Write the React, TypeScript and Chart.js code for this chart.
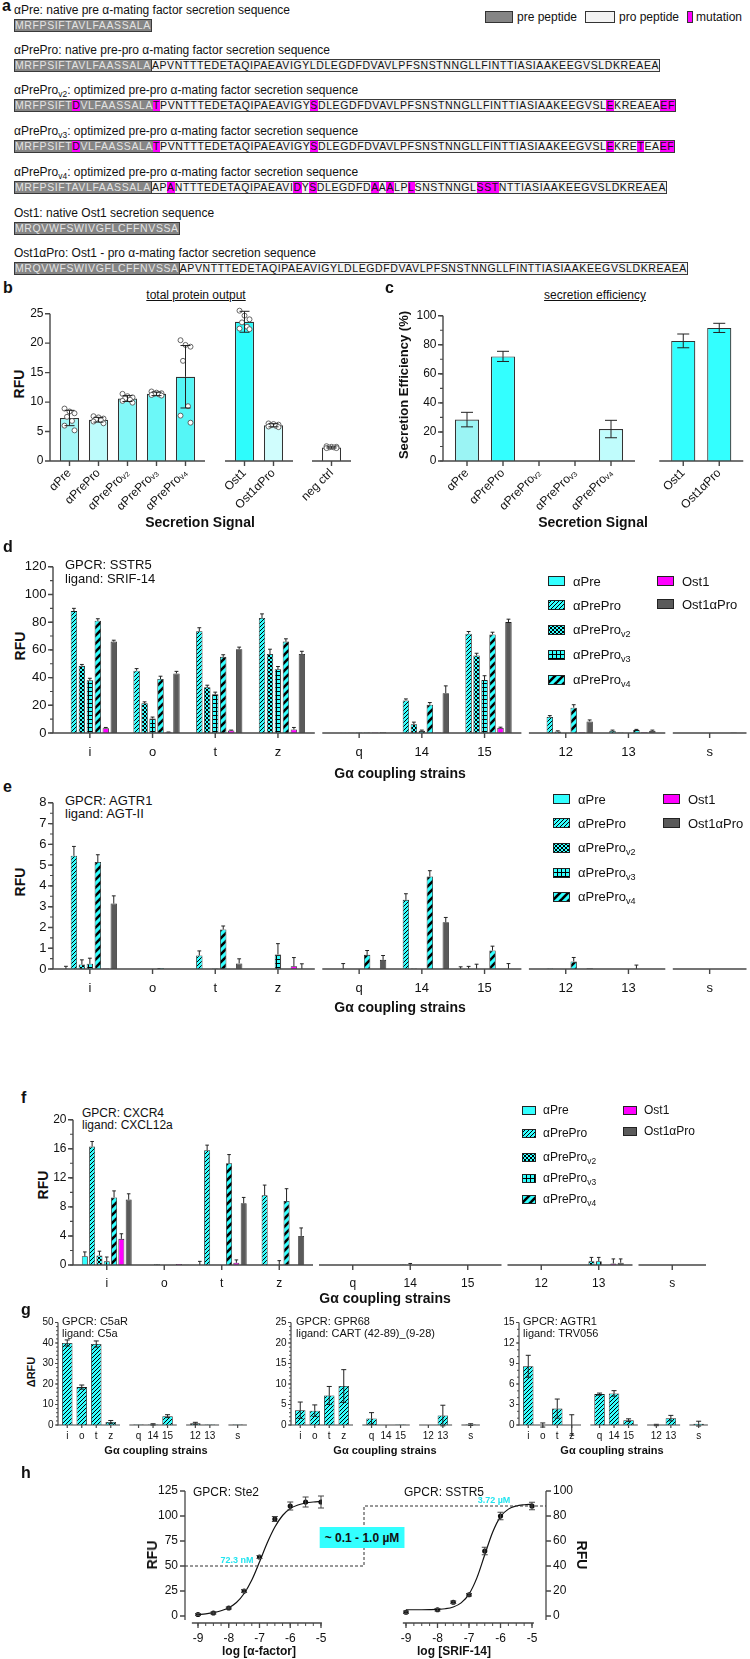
import React, { useEffect, useRef } from 'react';
import { Chart, registerables } from 'chart.js';

Chart.register(...registerables);

const FONT = "'Liberation Sans', Arial, Helvetica, sans-serif";
Chart.defaults.font.family = FONT;
Chart.defaults.color = '#111';

const CYAN = '#33FFFF';
const MAGENTA = '#FF00FF';
const DGRAY = '#5a5a5a';
const AXIS = '#474747';

// ================= DATA =================
// panel a – sequences
const preAlpha = 'MRFPSIFTAVLFAASSALA';
const proAlpha = 'APVNTTTEDETAQIPAEAVIGYLDLEGDFDVAVLPFSNSTNNGLLFINTTIASIAAKEEGVSLDKREAEA';
const preOst1 = 'MRQVWFSWIVGFLCFFNVSSA';
const seqAPre = [['pre', preAlpha]];
const seqAPrePro = [['pre', preAlpha], ['pro', proAlpha]];
const seqV2 = [['pre', 'MRFPSIFT'], ['mut', 'D'], ['pre', 'VLFAASSALA'], ['mut', 'T'], ['pro', 'PVNTTTEDETAQIPAEAVIGY'], ['mut', 'S'], ['pro', 'DLEGDFDVAVLPFSNSTNNGLLFINTTIASIAAKEEGVSL'], ['mut', 'E'], ['pro', 'KREAEA'], ['mut', 'EF']];
const seqV3 = [['pre', 'MRFPSIFT'], ['mut', 'D'], ['pre', 'VLFAASSALA'], ['mut', 'T'], ['pro', 'PVNTTTEDETAQIPAEAVIGY'], ['mut', 'S'], ['pro', 'DLEGDFDVAVLPFSNSTNNGLLFINTTIASIAAKEEGVSL'], ['mut', 'E'], ['pro', 'KRE'], ['mut', 'T'], ['pro', 'EA'], ['mut', 'EF']];
const seqV4 = [['pre', preAlpha], ['pro', 'AP'], ['mut', 'A'], ['pro', 'NTTTEDETAQIPAEAVI'], ['mut', 'D'], ['pro', 'Y'], ['mut', 'S'], ['pro', 'DLEGDFD'], ['mut', 'A'], ['pro', 'A'], ['mut', 'A'], ['pro', 'LP'], ['mut', 'L'], ['pro', 'SNSTNNGL'], ['mut', 'SST'], ['pro', 'NTTIASIAAKEEGVSLDKREAEA']];
const seqOst1 = [['pre', preOst1]];
const seqOst1Pro = [['pre', preOst1], ['pro', proAlpha]];

// panel b – total protein output
const bLabels = ['αPre', 'αPrePro', 'αPreProᵥ₂', 'αPreProᵥ₃', 'αPreProᵥ₄', 'Ost1', 'Ost1αPro', 'neg ctrl'];
const bMean = [7.3, 7.0, 10.6, 11.4, 14.3, 22.6, 5.8, 2.2];
const bSD = [1.3, 0.4, 0.5, 0.3, 5.3, 1.7, 0.25, 0.1];
const bReps = [
  [8.9, 8.4, 8.1, 7.5, 6.8, 6.0, 5.2],
  [7.6, 7.4, 7.2, 7.1, 6.9, 6.7, 6.4],
  [11.4, 11.0, 10.8, 10.6, 10.4, 10.2, 9.9],
  [11.8, 11.6, 11.5, 11.4, 11.3, 11.2, 11.1],
  [20.5, 19.7, 19.4, 17.0, 9.3, 7.7, 6.5],
  [24.4, 23.6, 23.0, 22.5, 21.8, 21.5, 21.4],
  [6.1, 6.0, 5.9, 5.8, 5.7, 5.6, 5.5],
  [2.4, 2.3, 2.3, 2.2, 2.2, 2.1, 2.1],
];
const bColors = ['#A3F7F7', '#BCFBFB', '#82F8F8', '#6CF8F8', '#55F6F6', '#2EFCFC', '#D0FDFD', '#FFFFFF'];
const bSegs = [5, 2, 1];

// panel c – secretion efficiency
const cLabels = ['αPre', 'αPrePro', 'αPreProᵥ₂', 'αPreProᵥ₃', 'αPreProᵥ₄', 'Ost1', 'Ost1αPro'];
const cMean = [28.5, 72, null, null, 22, 78.5, 87];
const cErr = [5, 3.5, null, null, 6, 4.5, 3];
const cColors = ['#9BF4F4', '#33FFFF', '#FFFFFF', '#FFFFFF', '#C0FCFC', '#33FFFF', '#33FFFF'];
const cSegs = [5, 2];

// panels d, e, f, g – Gα coupling strains
const strains = ['i', 'o', 't', 'z', 'q', '14', '15', '12', '13', 's'];
const strainSegs = [4, 3, 2, 1];
const seriesNames = ['αPre', 'αPrePro', 'αPrePro_v2', 'αPrePro_v3', 'αPrePro_v4', 'Ost1', 'Ost1αPro'];

// d: SSTR5 / SRIF-14  (rows = series, cols = strains)
const sstr5Values = [
  [0, 0, 0, 0, 0, 0, 0, 0, 0, 0],
  [88, 45, 73.5, 83, 0.2, 22.5, 68.5, 11, 1.5, 0],
  [48.5, 21.5, 33, 57, 0.1, 6, 53.5, 1, 0.3, 0],
  [38, 10.5, 28, 46, 0.3, 1.5, 36.5, 0.2, 0.2, 0],
  [81, 39, 55, 66, 0.4, 19.5, 68, 17.5, 2, 0],
  [3.5, 0.5, 1.8, 2.5, 0.3, 0.3, 3.5, 0.5, 0.5, 0],
  [66, 43, 60.5, 57, 0.6, 27.5, 76.5, 8, 1.5, 0.4],
];
const sstr5Errors = [
  [0, 0, 0, 0, 0, 0, 0, 0, 0, 0],
  [2, 1.5, 2.5, 3, 0, 1, 1.5, 1, 0.5, 0],
  [1, 1, 1.5, 3.5, 0, 1.5, 1.5, 0.5, 0, 0],
  [1.5, 1, 1.5, 2, 0, 0.5, 3, 0, 0, 0],
  [1.5, 2, 1.5, 2, 0, 1.5, 1.5, 2, 0.5, 0],
  [0.5, 0.2, 0.3, 1.5, 0, 0, 0.5, 0, 0, 0],
  [1, 1.5, 1.5, 2, 0, 5, 2, 1, 0.5, 0],
];

// e: AGTR1 / AGT-II
const agtr1Values = [
  [0, 0, 0, 0, 0, 0, 0, 0, 0, 0],
  [5.45, 0, 0.65, 0, 0, 3.18, 0, 0.02, 0, 0],
  [0.22, 0, 0, 0, 0, 0.02, 0, 0, 0, 0],
  [0.25, 0, 0.03, 0.7, 0, 0, 0, 0, 0, 0],
  [5.15, 0.05, 1.9, 0, 0.65, 4.25, 0.85, 0.35, 0, 0],
  [0.03, 0, 0, 0.13, 0, 0, 0, 0, 0, 0],
  [3.15, 0, 0.27, 0, 0.42, 2.15, 0, 0.03, 0, 0],
];
const agtr1Errors = [
  [0.13, 0, 0, 0, 0, 0, 0.1, 0, 0, 0],
  [0.45, 0, 0.22, 0, 0.25, 0.28, 0.12, 0, 0, 0],
  [0.22, 0, 0, 0, 0, 0, 0.22, 0, 0, 0],
  [0.27, 0, 0, 0.52, 0, 0, 0, 0, 0, 0],
  [0.35, 0, 0.17, 0, 0.2, 0.27, 0.2, 0.18, 0.18, 0],
  [0, 0, 0, 0.42, 0, 0, 0, 0, 0, 0],
  [0.37, 0, 0.22, 0.25, 0.2, 0.22, 0.25, 0, 0, 0],
];

// f: CXCR4 / CXCL12a
const cxcr4Values = [
  [1.2, 0, 0, 0, 0, 0, 0, 0, 0, 0],
  [16.3, 0, 15.8, 9.6, 0, 0, 0, 0, 0, 0],
  [1.3, 0.1, 0, 0, 0, 0.05, 0, 0, 0.5, 0],
  [0.5, 0, 0, 0, 0, 0, 0, 0, 0.5, 0],
  [9.3, 0, 14.0, 8.8, 0, 0, 0, 0, 0, 0],
  [3.6, 0.15, 0.3, 0, 0, 0, 0, 0, 0.2, 0],
  [9.0, 0.05, 8.5, 4.0, 0, 0, 0, 0, 0.3, 0],
];
const cxcr4Errors = [
  [0.6, 0, 0.5, 0, 0, 0, 0, 0, 0, 0],
  [0.7, 0, 0.7, 1.4, 0, 0, 0, 0, 0, 0],
  [0.6, 0, 0, 0, 0, 0, 0, 0, 0.5, 0],
  [0.6, 0, 0, 0.6, 0, 0.2, 0, 0, 0.5, 0],
  [0.9, 0, 1.2, 1.7, 0, 0, 0, 0, 0, 0],
  [0.7, 0, 0.4, 0, 0, 0, 0, 0, 0.6, 0],
  [0.8, 0, 0.8, 1.1, 0, 0, 0, 0, 0.5, 0],
];

// g: αPrePro only, three receptors
const c5arValues = [40, 18.5, 39.5, 1.5, 0.2, 0.3, 4.3, 0.8, 0.2, 0.2];
const c5arErrors = [1.5, 1, 1.5, 0.7, 0, 0.3, 0.7, 0.5, 0, 0];
const gpr68Values = [3.6, 3.5, 7.2, 9.5, 1.6, 0, 0.1, 0, 2.3, 0.1];
const gpr68Errors = [2, 1.4, 2.2, 4, 1.4, 0, 0, 0, 2.5, 0.2];
const trv056Values = [8.6, 0, 2.4, 0, 4.5, 4.6, 0.7, 0, 1.0, 0.2];
const trv056Errors = [1.6, 0.3, 1.4, 1.5, 0.15, 0.4, 0.2, 0.1, 0.4, 0.35];

// h: dose–response
const hXTicks = [-9, -8, -7, -6, -5];
const hAlphaTicks = [0, 25, 50, 75, 100, 125];
const hSrifTicks = [0, 20, 40, 60, 80, 100];
const hDoseAlpha = [-9, -8.5, -8, -7.5, -7, -6.5, -6, -5.5, -5];
const hRfuAlpha = [1.5, 3, 8, 25, 59, 97, 110, 114, 114];
const hErrAlpha = [1, 1, 1, 1.5, 1.5, 2.5, 4, 5, 6];
const hDoseSrif = [-9, -8, -7.5, -7, -6.5, -6, -5];
const hRfuSrif = [3, 5, 11, 17, 52, 80, 88];
const hErrSrif = [1, 1, 1, 1, 3, 3, 3];
const hFitDose = [-9, -8.75, -8.5, -8.25, -8, -7.75, -7.5, -7.25, -7, -6.75, -6.5, -6.25, -6, -5.75, -5.5, -5.25, -5];
const hFitAlpha = [1.5, 2.2, 3.3, 5.2, 8.3, 13.5, 22.5, 36, 54, 73, 89, 100.5, 107.5, 111, 113, 114, 114.5];
const hFitSrif = [5, 5, 5, 5.1, 5.3, 5.8, 7.2, 10.5, 17.5, 30.5, 49, 67, 79.5, 85.5, 88, 89, 89.5];
const hHalfAlpha = 50;
const hTopSrif = 88;

// ================= STYLE HELPERS =================
const seriesFills = ['solid', 'hatch', 'check', 'grid', 'stripe', 'magenta', 'gray'];

function makeTile(kind: string) {
  const s = kind === 'stripe' ? 8 : 4;
  const c = document.createElement('canvas');
  c.width = s; c.height = s;
  const g = c.getContext('2d') as CanvasRenderingContext2D;
  g.fillStyle = CYAN; g.fillRect(0, 0, s, s);
  g.fillStyle = '#000'; g.strokeStyle = '#000';
  if (kind === 'hatch' || kind === 'stripe') {
    g.lineWidth = kind === 'hatch' ? 1 : 2.6;
    for (const off of [-s, 0, s]) { g.beginPath(); g.moveTo(off - 1, s + 1); g.lineTo(off + s + 1, -1); g.stroke(); }
  } else if (kind === 'check') {
    g.fillRect(0, 0, 2, 2); g.fillRect(2, 2, 2, 2);
  } else if (kind === 'grid') {
    g.fillRect(0, 0, s, 1); g.fillRect(0, 0, 1, s);
  }
  return c;
}
const patCache = new WeakMap<any, any>();
function fillFor(ctx: CanvasRenderingContext2D, kind: string): any {
  if (kind === 'solid') return CYAN;
  if (kind === 'magenta') return MAGENTA;
  if (kind === 'gray') return DGRAY;
  let m = patCache.get(ctx);
  if (!m) { m = {}; patCache.set(ctx, m); }
  if (!m[kind]) m[kind] = ctx.createPattern(makeTile(kind), 'repeat');
  return m[kind];
}

// ================= PLUGINS =================
const prismPlugin = {
  id: 'prism',
  afterDraw(chart: any, _a: any, o: any) {
    const { ctx, chartArea: ca } = chart;
    const xs = chart.scales.x, ys = chart.scales.y;
    const ext = o.ext || 0, tl = o.tickLen ?? 5;
    ctx.save();
    ctx.strokeStyle = AXIS; ctx.lineWidth = o.lineWidth ?? 1.4;
    ctx.beginPath();
    ctx.moveTo(ca.left - ext, ca.bottom); ctx.lineTo(ca.right + ext, ca.bottom);
    for (let i = 0; i < xs.ticks.length; i++) {
      const px = xs.getPixelForTick(i);
      ctx.moveTo(px, ca.bottom); ctx.lineTo(px, ca.bottom + tl);
    }
    if (o.drawY) {
      const x0 = ca.left - ext;
      ctx.moveTo(x0, ca.top); ctx.lineTo(x0, ca.bottom + 0.7);
      for (const t of ys.ticks) { const py = ys.getPixelForValue(t.value); ctx.moveTo(x0 - tl, py); ctx.lineTo(x0, py); }
    }
    ctx.stroke();
    if (o.drawY && o.yMinor) {
      const x0 = ca.left - ext, ml = o.minorLen ?? 3;
      ctx.beginPath(); ctx.lineWidth = (o.lineWidth ?? 1.4) * 0.8;
      for (let v = ys.min; v <= ys.max + 1e-9; v += o.yMinor) { const py = ys.getPixelForValue(v); ctx.moveTo(x0 - ml, py); ctx.lineTo(x0, py); }
      ctx.stroke();
    }
    ctx.restore();
  },
};

const dotsPlugin = {
  id: 'dots',
  afterDatasetsDraw(chart: any) {
    const ctx = chart.ctx, ys = chart.scales.y;
    const jit = [-5, 0, 5, -2.5, 2.5, -5, 5];
    chart.data.datasets.forEach((ds: any, di: number) => {
      if (!ds.replicates) return;
      const meta = chart.getDatasetMeta(di);
      meta.data.forEach((el: any, i: number) => {
        const reps = ds.replicates[i]; if (!reps) return;
        reps.forEach((v: number, j: number) => {
          ctx.beginPath(); ctx.arc(el.x + jit[j % jit.length], ys.getPixelForValue(v), 2.5, 0, Math.PI * 2);
          ctx.fillStyle = '#fff'; ctx.fill(); ctx.lineWidth = 0.9; ctx.strokeStyle = '#555'; ctx.stroke();
        });
      });
    });
  },
};

const errorPlugin = {
  id: 'errbars',
  afterDatasetsDraw(chart: any) {
    const ctx = chart.ctx, ys = chart.scales.y;
    chart.data.datasets.forEach((ds: any, di: number) => {
      if (!ds.errors) return;
      const meta = chart.getDatasetMeta(di);
      ctx.save(); ctx.strokeStyle = ds.errColor || '#222'; ctx.lineWidth = ds.errWidth || 1;
      meta.data.forEach((el: any, i: number) => {
        const d = ds.data[i]; const v = d !== null && typeof d === 'object' ? d.y : d; const e = ds.errors[i];
        if (v == null || e == null || e === 0) return;
        const x = el.x; const cw = ds.capWidth ?? Math.max(3, (el.width || 6) * 0.6);
        const base = ys.getPixelForValue(v), up = ys.getPixelForValue(v + e);
        ctx.beginPath(); ctx.moveTo(x, base); ctx.lineTo(x, up); ctx.moveTo(x - cw / 2, up); ctx.lineTo(x + cw / 2, up);
        if (ds.errBoth) { const dn = ys.getPixelForValue(v - e); ctx.moveTo(x, base); ctx.lineTo(x, dn); ctx.moveTo(x - cw / 2, dn); ctx.lineTo(x + cw / 2, dn); }
        ctx.stroke();
      });
      ctx.restore();
    });
  },
};

const hAxesPlugin = {
  id: 'haxes',
  afterDraw(chart: any, _a: any, o: any) {
    const { ctx, chartArea: ca } = chart; const xs = chart.scales.x, ys = chart.scales.y;
    ctx.save(); ctx.strokeStyle = AXIS; ctx.lineWidth = 1.3; ctx.beginPath();
    const yx = o.side === 'right' ? ca.right : ca.left; const dir = o.side === 'right' ? 1 : -1;
    ctx.moveTo(yx, ys.getPixelForValue(o.yTop)); ctx.lineTo(yx, ys.getPixelForValue(o.yBottom));
    for (const t of ys.ticks) { const py = ys.getPixelForValue(t.value); ctx.moveTo(yx, py); ctx.lineTo(yx + dir * 5, py); }
    ctx.moveTo(xs.getPixelForValue(o.xFrom), ca.bottom); ctx.lineTo(xs.getPixelForValue(o.xTo), ca.bottom);
    for (const t of xs.ticks) { const px = xs.getPixelForValue(t.value); ctx.moveTo(px, ca.bottom); ctx.lineTo(px, ca.bottom + 5); }
    ctx.stroke();
    ctx.beginPath(); ctx.lineWidth = 1;
    for (let v = o.xMinorFrom; v <= o.xTo + 1e-9; v += o.xMinor) { const px = xs.getPixelForValue(v); ctx.moveTo(px, ca.bottom); ctx.lineTo(px, ca.bottom + 3); }
    ctx.stroke(); ctx.restore();
  },
};

// ================= COMPONENTS =================
function ChartBox({ left, top, width, height, make }: any) {
  const ref = useRef<HTMLCanvasElement>(null);
  useEffect(() => {
    const c = make(ref.current);
    return () => c.destroy();
  }, []);
  return <canvas ref={ref} width={width} height={height} style={{ position: 'absolute', left, top, width, height }} />;
}

function makeSegChart(cv: HTMLCanvasElement, o: any) {
  const tl = o.tickLen ?? 5;
  return new Chart(cv, {
    type: 'bar',
    data: { labels: o.labels, datasets: o.datasets },
    options: {
      responsive: false, animation: false, events: [],
      layout: { padding: { left: o.padLeft, right: o.padRight, top: o.padTop, bottom: 0 } },
      plugins: {
        legend: { display: false }, tooltip: { enabled: false },
        prism: { ext: o.ext, drawY: o.showY, yMinor: o.yMinor, tickLen: tl, minorLen: o.minorLen ?? 3, lineWidth: o.axisWidth ?? 1.4 },
      },
      scales: {
        x: {
          type: 'category', offset: true, grid: { display: false, drawTicks: false }, border: { display: false },
          ticks: { autoSkip: false, maxRotation: o.rotate || 0, minRotation: o.rotate || 0, padding: o.tickPad, font: { size: o.tickFont }, color: '#111' },
          afterFit: (s: any) => { s.height = o.xHeight; },
        },
        y: {
          display: o.showY, min: o.yMin, max: o.yMax, grid: { display: false, drawTicks: false }, border: { display: false },
          ticks: { stepSize: o.yStep, padding: o.ext + tl + 1.5, font: { size: o.yTickFont }, color: '#111' },
          afterFit: (s: any) => { s.width = o.yWidth; },
        },
      },
    } as any,
    plugins: [prismPlugin, dotsPlugin, errorPlugin] as any,
  });
}

function SegChart(p: any) {
  const gaps = Array.isArray(p.gap) ? p.gap : p.segs.map(() => p.gap);
  let cum = 0;
  let x = p.axisX + p.ext;
  const out: any[] = [];
  p.segs.forEach((n: number, k: number) => {
    if (k > 0) x += gaps[k - 1];
    const start = x;
    const first = k === 0;
    const canvasLeft = first ? Math.max(0, Math.floor(p.axisX - (p.yRoom ?? 55))) : Math.floor(start - (p.labelRoom ?? 12));
    const padLeft = start - canvasLeft;
    const plotW = n * p.catW;
    const width = Math.ceil(padLeft + plotW + p.ext + 8);
    const padRight = width - padLeft - plotW;
    const padTop = p.padTop ?? 12;
    const height = Math.round(padTop + (p.bottom - p.top) + p.xHeight);
    const a = cum, b = cum + n;
    const opts = {
      ...p, labels: p.labels.slice(a, b), datasets: p.build(a, b), showY: first,
      padLeft: first ? 0 : padLeft, yWidth: first ? padLeft : 0, padRight, padTop,
    };
    out.push(<ChartBox key={k} left={canvasLeft} top={p.top - padTop} width={width} height={height} make={(cv: any) => makeSegChart(cv, opts)} />);
    x += plotW; cum += n;
  });
  return <>{out}</>;
}

function T({ x, y, s = 12, b = false, a = 'l', r = 0, c = '#111', u = false, f = FONT, children }: any) {
  const tx = a === 'c' ? '-50%' : a === 'r' ? '-100%' : '0';
  return (
    <div style={{
      position: 'absolute', left: x, top: y, transform: `translate(${tx}, -50%)${r ? ` rotate(${r}deg)` : ''}`,
      fontSize: s, fontWeight: b ? 700 : 400, color: c, whiteSpace: 'nowrap', lineHeight: 1, fontFamily: f,
      textDecoration: u ? 'underline' : 'none',
    }}>{children}</div>
  );
}

function Sub({ children }: any) {
  return <span style={{ fontSize: '0.7em', position: 'relative', top: '0.35em' }}>{children}</span>;
}

function seriesLabel(i: number) {
  const n = seriesNames[i];
  const p = n.split('_');
  return p.length > 1 ? <>{p[0]}<Sub>{p[1]}</Sub></> : n;
}

function Swatch({ kind, left, top, w, h }: any) {
  const ref = useRef<HTMLCanvasElement>(null);
  useEffect(() => {
    const c = ref.current as HTMLCanvasElement; const g = c.getContext('2d') as CanvasRenderingContext2D;
    g.fillStyle = fillFor(g, kind); g.fillRect(0, 0, w, h);
    g.strokeStyle = '#222'; g.lineWidth = 1; g.strokeRect(0.5, 0.5, w - 1, h - 1);
  }, []);
  return <canvas ref={ref} width={w} height={h} style={{ position: 'absolute', left, top }} />;
}

function Legend({ x1, x2, rows1, rows2, sw, sh, gap, size }: any) {
  const items: any[] = [];
  for (let i = 0; i < 5; i++) items.push({ x: x1, y: rows1[i], s: i });
  for (let i = 0; i < 2; i++) items.push({ x: x2, y: rows2[i], s: 5 + i });
  return <>{items.map((it) => (
    <React.Fragment key={it.s}>
      <Swatch kind={seriesFills[it.s]} left={it.x} top={Math.round(it.y - sh / 2)} w={sw} h={sh} />
      <T x={it.x + sw + gap} y={it.y} s={size}>{seriesLabel(it.s)}</T>
    </React.Fragment>
  ))}</>;
}

function SeqBox({ top, parts }: any) {
  return (
    <div style={{ position: 'absolute', left: 14, top, display: 'flex', border: '1px solid #3a3a3a', fontSize: 10.5, lineHeight: '11px', height: 11, letterSpacing: '0.6px', fontFamily: FONT }}>
      {parts.map(([k, t]: any, i: number) => (
        <span key={i} style={{
          background: k === 'pre' ? '#858585' : k === 'pro' ? '#f3f3f3' : MAGENTA,
          color: k === 'pre' ? '#e4e4e4' : '#111',
          borderLeft: k === 'pro' && i > 0 && parts[i - 1][0] === 'pre' ? '1px solid #3a3a3a' : 'none',
        }}>{t}</span>
      ))}
    </div>
  );
}

function PanelA() {
  const rows = [
    { y: 10, label: <>αPre: native pre α-mating factor secretion sequence</>, parts: seqAPre },
    { y: 50, label: <>αPrePro: native pre-pro α-mating factor secretion sequence</>, parts: seqAPrePro },
    { y: 90, label: <>αPrePro<Sub>v2</Sub>: optimized pre-pro α-mating factor secretion sequence</>, parts: seqV2 },
    { y: 131, label: <>αPrePro<Sub>v3</Sub>: optimized pre-pro α-mating factor secretion sequence</>, parts: seqV3 },
    { y: 172, label: <>αPrePro<Sub>v4</Sub>: optimized pre-pro α-mating factor secretion sequence</>, parts: seqV4 },
    { y: 213, label: <>Ost1: native Ost1 secretion sequence</>, parts: seqOst1 },
    { y: 253, label: <>Ost1αPro: Ost1 - pro α-mating factor secretion sequence</>, parts: seqOst1Pro },
  ];
  return (
    <>
      <T x={2} y={6} s={16} b>a</T>
      {rows.map((r, i) => (
        <React.Fragment key={i}>
          <T x={14} y={r.y} s={12}>{r.label}</T>
          <SeqBox top={r.y + 9} parts={r.parts} />
        </React.Fragment>
      ))}
      <div style={{ position: 'absolute', left: 485, top: 11, width: 28, height: 12, background: '#858585', border: '1px solid #333', boxSizing: 'border-box' }} />
      <T x={517} y={17} s={12}>pre peptide</T>
      <div style={{ position: 'absolute', left: 585, top: 11, width: 30, height: 12, background: '#f3f3f3', border: '1px solid #333', boxSizing: 'border-box' }} />
      <T x={619} y={17} s={12}>pro peptide</T>
      <div style={{ position: 'absolute', left: 687, top: 11, width: 6, height: 12, background: MAGENTA, border: '1px solid #333', boxSizing: 'border-box' }} />
      <T x={696} y={17} s={12}>mutation</T>
    </>
  );
}

function buildSeries(vals: number[][], errs: number[][], catPct: number, barPct: number) {
  return (a: number, b: number) => seriesFills.map((kind, s) => ({
    label: seriesNames[s],
    data: vals[s].slice(a, b),
    errors: errs[s].slice(a, b),
    backgroundColor: (c: any) => fillFor(c.chart.ctx, kind),
    borderColor: '#1e1e1e', borderWidth: 0.8,
    categoryPercentage: catPct, barPercentage: barPct,
  }));
}

function buildSingle(vals: number[], errs: number[]) {
  return (a: number, b: number) => [{
    label: 'αPrePro',
    data: vals.slice(a, b), errors: errs.slice(a, b), errBoth: true, capWidth: 5,
    backgroundColor: (c: any) => fillFor(c.chart.ctx, 'hatch'),
    borderColor: '#1e1e1e', borderWidth: 0.8, categoryPercentage: 1, barPercentage: 0.72,
  }];
}

function PanelH() {
  const lref = useRef<HTMLCanvasElement>(null);
  const rref = useRef<HTMLCanvasElement>(null);
  useEffect(() => {
    const base = (pad: any, xMin: number, xMax: number, yMin: number, yMax: number, yTicks: number[], side: string, yW: number, ax: any) => ({
      responsive: false, animation: false, events: [],
      layout: { padding: pad },
      plugins: { legend: { display: false }, tooltip: { enabled: false }, haxes: ax },
      scales: {
        x: {
          type: 'linear', min: xMin, max: xMax, grid: { display: false, drawTicks: false }, border: { display: false },
          ticks: { padding: 8, font: { size: 12 }, color: '#111' },
          afterBuildTicks: (s: any) => { s.ticks = hXTicks.map((v) => ({ value: v })); },
          afterFit: (s: any) => { s.height = 36; },
        },
        y: {
          position: side, min: yMin, max: yMax, grid: { display: false, drawTicks: false }, border: { display: false },
          ticks: { padding: 7, font: { size: 12 }, color: '#111' },
          afterBuildTicks: (s: any) => { s.ticks = yTicks.map((v) => ({ value: v })); },
          afterFit: (s: any) => { s.width = yW; },
        },
      },
    });
    const fitDs = (ys: number[]) => ({ type: 'line', data: hFitDose.map((x, i) => ({ x, y: ys[i] })), borderColor: '#111', borderWidth: 1.2, pointRadius: 0, cubicInterpolationMode: 'monotone', showLine: true, fill: false });
    const ptDs = (xs: number[], ys: number[], es: number[]) => ({ type: 'scatter', data: xs.map((x, i) => ({ x, y: ys[i] })), errors: es, errBoth: true, capWidth: 6, errColor: '#444', pointRadius: 2.6, pointBackgroundColor: '#111', pointBorderWidth: 0 });
    const left = new Chart(lref.current as any, {
      type: 'scatter',
      data: { datasets: [fitDs(hFitAlpha), ptDs(hDoseAlpha, hRfuAlpha, hErrAlpha)] as any },
      options: base({ left: 0, top: 21, right: 428, bottom: 0 }, -9.423, -4.967, -7, 125, hAlphaTicks, 'left', 185,
        { side: 'left', yTop: 125, yBottom: -4, xFrom: -9.2, xTo: -4.97, xMinor: 0.25, xMinorFrom: -9 }) as any,
      plugins: [hAxesPlugin, errorPlugin] as any,
    });
    const connector = {
      id: 'connector',
      afterDraw(chart: any) {
        const ctx = chart.ctx;
        const yl = left.scales.y.getPixelForValue(hHalfAlpha);
        const yr = chart.scales.y.getPixelForValue(hTopSrif);
        const xm = 364;
        ctx.save(); ctx.setLineDash([3, 2]); ctx.strokeStyle = '#333'; ctx.lineWidth = 1; ctx.beginPath();
        ctx.moveTo(left.chartArea.left, yl); ctx.lineTo(xm, yl); ctx.lineTo(xm, yr); ctx.lineTo(chart.chartArea.right, yr);
        ctx.stroke(); ctx.restore();
      },
    };
    const right = new Chart(rref.current as any, {
      type: 'scatter',
      data: { datasets: [fitDs(hFitSrif), ptDs(hDoseSrif, hRfuSrif, hErrSrif)] as any },
      options: base({ left: 395, top: 21, right: 0, bottom: 0 }, -9.349, -4.556, -5.6, 100, hSrifTicks, 'right', 204,
        { side: 'right', yTop: 100, yBottom: -3.2, xFrom: -9.1, xTo: -4.94, xMinor: 0.25, xMinorFrom: -9 }) as any,
      plugins: [hAxesPlugin, errorPlugin, connector] as any,
    });
    return () => { left.destroy(); right.destroy(); };
  }, []);
  return (
    <>
      <canvas ref={lref} width={750} height={189} style={{ position: 'absolute', left: 0, top: 1470, width: 750, height: 189 }} />
      <canvas ref={rref} width={750} height={189} style={{ position: 'absolute', left: 0, top: 1470, width: 750, height: 189 }} />
      <div style={{ position: 'absolute', left: 362, top: 1527, height: 21, transform: 'translateX(-50%)', padding: '0 5px', background: CYAN, display: 'flex', alignItems: 'center', whiteSpace: 'nowrap', fontWeight: 700, fontSize: 12, fontFamily: FONT, color: '#111' }}>~ 0.1 - 1.0 µM</div>
    </>
  );
}

export default function App() {
  useEffect(() => { document.body.style.margin = '0'; }, []);
  const dBuild = buildSeries(sstr5Values, sstr5Errors, 0.89, 0.8);
  const eBuild = buildSeries(agtr1Values, agtr1Errors, 0.89, 0.8);
  const fBuild = buildSeries(cxcr4Values, cxcr4Errors, 0.89, 0.82);
  const bBuild = (a: number, b: number) => [{
    label: 'total', data: bMean.slice(a, b), errors: bSD.slice(a, b), errBoth: true, replicates: bReps.slice(a, b),
    backgroundColor: bColors.slice(a, b), borderColor: '#333', borderWidth: 1.2, categoryPercentage: 1, barPercentage: 0.66, capWidth: 10,
  }];
  const cBuild = (a: number, b: number) => [{
    label: 'eff', data: cMean.slice(a, b), errors: cErr.slice(a, b), errBoth: true,
    backgroundColor: cColors.slice(a, b), borderColor: '#333', borderWidth: 1.2, categoryPercentage: 1, barPercentage: 0.67, capWidth: 12,
  }];
  const gCommon = { segs: strainSegs, labels: strains, ext: 2, catW: 14.5, gap: 13.3, top: 1322, bottom: 1425, tickFont: 10, yTickFont: 10, tickPad: 5, xHeight: 18, tickLen: 3, minorLen: 2, axisWidth: 1.2, labelRoom: 6, yRoom: 30 };
  return (
    <div style={{ position: 'absolute', left: 0, top: 0, width: 750, height: 1659, background: '#fff', overflow: 'hidden', fontFamily: FONT, color: '#111' }}>
      <PanelA />

      {/* b */}
      <T x={3} y={288} s={16} b>b</T>
      <T x={196} y={295} s={12} a="c" u>total protein output</T>
      <T x={19} y={384} s={14} b a="c" r={-90}>RFU</T>
      <SegChart segs={bSegs} labels={bLabels} build={bBuild} axisX={50} ext={5} catW={29} gap={[30, 29]} top={307} bottom={461}
        yMin={0} yMax={25} yStep={5} tickFont={12} yTickFont={12} rotate={45} tickPad={5} xHeight={60} labelRoom={60} yRoom={50} />
      <T x={200} y={522} s={14} b a="c">Secretion Signal</T>

      {/* c */}
      <T x={385} y={288} s={16} b>c</T>
      <T x={595} y={295} s={12} a="c" u>secretion efficiency</T>
      <T x={403} y={385} s={13} b a="c" r={-90}>Secretion Efficiency (%)</T>
      <SegChart segs={cSegs} labels={cLabels} build={cBuild} axisX={443} ext={6} catW={36} gap={36.25} top={308} bottom={461}
        yMin={0} yMax={100} yStep={20} yMinor={10} tickFont={12} yTickFont={12} rotate={45} tickPad={5} xHeight={60} labelRoom={60} yRoom={40} />
      <T x={593} y={522} s={14} b a="c">Secretion Signal</T>

      {/* d */}
      <T x={3} y={547} s={16} b>d</T>
      <T x={65} y={564} s={13}>GPCR: SSTR5</T>
      <T x={65} y={578} s={13}>ligand: SRIF-14</T>
      <T x={20} y={646} s={14} b a="c" r={-90}>RFU</T>
      <SegChart segs={strainSegs} labels={strains} build={dBuild} axisX={53} ext={5.5} catW={62.7} gap={18.5} top={559} bottom={733}
        yMin={0} yMax={120} yStep={20} yMinor={10} tickFont={13} yTickFont={13} tickPad={12} xHeight={30} />
      <T x={400} y={773} s={14} b a="c">Gα coupling strains</T>
      <Legend x1={548} x2={657} rows1={[581, 605, 630, 655, 680]} rows2={[581, 604]} sw={17} sh={10} gap={8} size={13} />

      {/* e */}
      <T x={3} y={787} s={16} b>e</T>
      <T x={65} y={800} s={13}>GPCR: AGTR1</T>
      <T x={65} y={813} s={13}>ligand: AGT-II</T>
      <T x={20} y={882} s={14} b a="c" r={-90}>RFU</T>
      <SegChart segs={strainSegs} labels={strains} build={eBuild} axisX={53} ext={5.5} catW={62.7} gap={18.5} top={795} bottom={969}
        yMin={0} yMax={8} yStep={1} yMinor={0.5} tickFont={13} yTickFont={13} tickPad={12} xHeight={30} />
      <T x={400} y={1007} s={14} b a="c">Gα coupling strains</T>
      <Legend x1={553} x2={663} rows1={[799, 823, 848, 873, 897]} rows2={[799, 823]} sw={17} sh={10} gap={8} size={13} />

      {/* f */}
      <T x={21} y={1098} s={16} b>f</T>
      <T x={82} y={1113} s={12}>GPCR: CXCR4</T>
      <T x={82} y={1125} s={12}>ligand: CXCL12a</T>
      <T x={43} y={1185} s={14} b a="c" r={-90}>RFU</T>
      <SegChart segs={strainSegs} labels={strains} build={fBuild} axisX={73} ext={5} catW={57.5} gap={16} top={1113} bottom={1265}
        yMin={0} yMax={20} yStep={4} yMinor={2} tickFont={12} yTickFont={12} tickPad={11} xHeight={28} />
      <T x={385} y={1298} s={14} b a="c">Gα coupling strains</T>
      <Legend x1={522} x2={623} rows1={[1110, 1133, 1157, 1178, 1199]} rows2={[1110, 1131]} sw={14} sh={9} gap={7} size={12} />

      {/* g */}
      <T x={21} y={1310} s={16} b>g</T>
      <T x={31} y={1372} s={11} b a="c" r={-90}>ΔRFU</T>
      <T x={62} y={1321} s={11}>GPCR: C5aR</T>
      <T x={62} y={1333} s={11}>ligand: C5a</T>
      <SegChart {...gCommon} build={buildSingle(c5arValues, c5arErrors)} axisX={58} yMin={0} yMax={50} yStep={10} yMinor={2} />
      <T x={156} y={1450} s={11} b a="c">Gα coupling strains</T>
      <T x={296} y={1321} s={11}>GPCR: GPR68</T>
      <T x={296} y={1333} s={11}>ligand: CART (42-89)_(9-28)</T>
      <SegChart {...gCommon} build={buildSingle(gpr68Values, gpr68Errors)} axisX={291} yMin={0} yMax={25} yStep={5} yMinor={1} />
      <T x={385} y={1450} s={11} b a="c">Gα coupling strains</T>
      <T x={523} y={1321} s={11}>GPCR: AGTR1</T>
      <T x={523} y={1333} s={11}>ligand: TRV056</T>
      <SegChart {...gCommon} build={buildSingle(trv056Values, trv056Errors)} axisX={519} yMin={0} yMax={15} yStep={3} yMinor={1} />
      <T x={612} y={1450} s={11} b a="c">Gα coupling strains</T>

      {/* h */}
      <T x={21} y={1473} s={16} b>h</T>
      <PanelH />
      <T x={193} y={1492} s={12}>GPCR: Ste2</T>
      <T x={404} y={1492} s={12}>GPCR: SSTR5</T>
      <T x={152} y={1555} s={14} b a="c" r={-90}>RFU</T>
      <T x={582} y={1555} s={14} b a="c" r={90}>RFU</T>
      <T x={237} y={1560} s={9} b a="c" c="#22E5F0">72.3 nM</T>
      <T x={494} y={1500} s={9} b a="c" c="#22E5F0">3.72 µM</T>
      <T x={259} y={1651} s={12} b a="c">log [α-factor]</T>
      <T x={454} y={1651} s={12} b a="c">log [SRIF-14]</T>
    </div>
  );
}
